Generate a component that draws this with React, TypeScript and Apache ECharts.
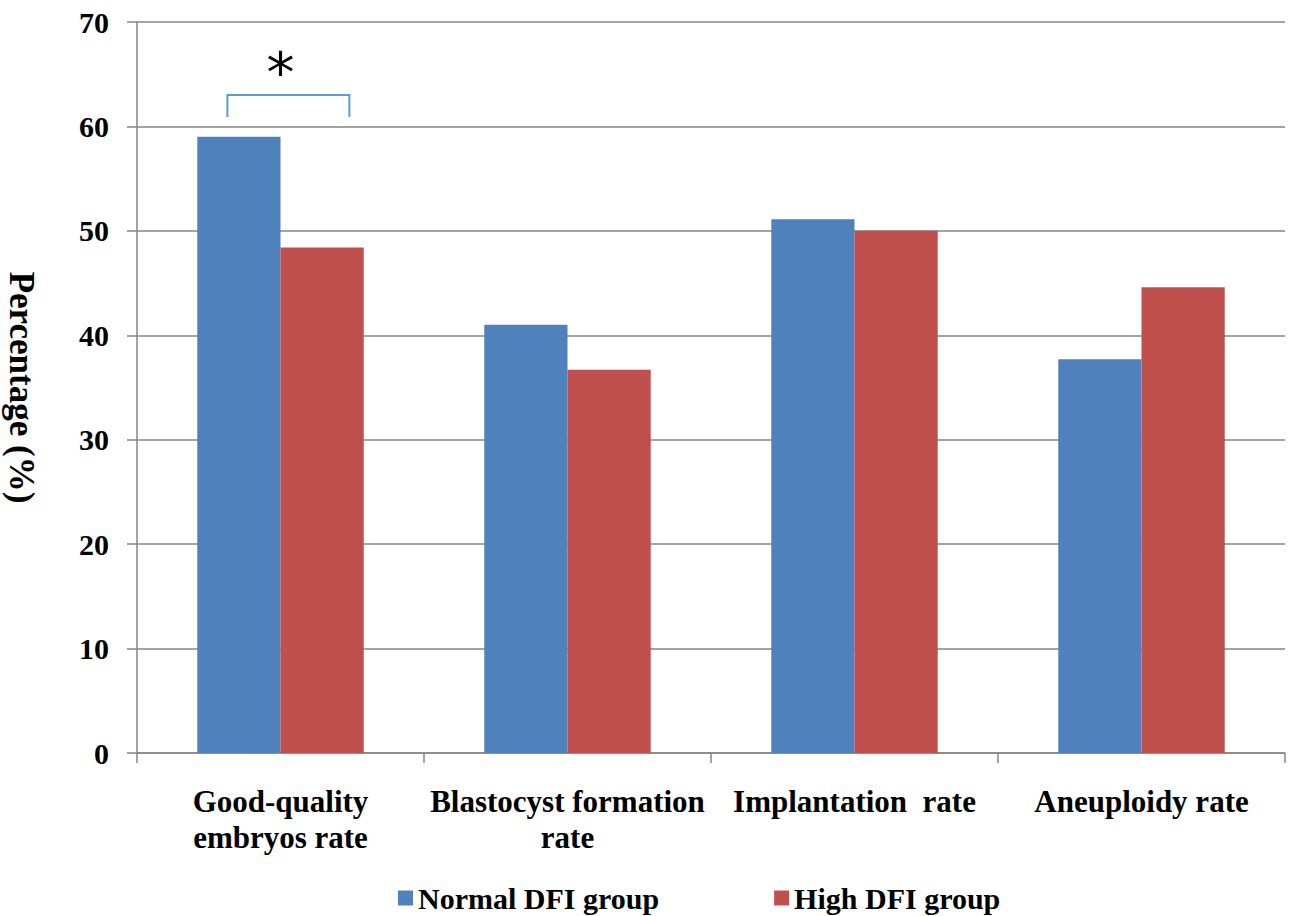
import React, { useEffect, useRef } from "react";
import * as echarts from "echarts";

const categories = [
  "Good-quality\nembryos rate",
  "Blastocyst formation\nrate",
  "Implantation  rate",
  "Aneuploidy rate",
];
const seriesNames = ["Normal DFI group", "High DFI group"];
const normalValues = [59.0, 41.0, 51.1, 37.7];
const highValues = [48.4, 36.7, 50.0, 44.6];
const yTicks = { min: 0, max: 70, interval: 10 };
const significance = { category: 0, bracketTop: 63.0, bracketLeg: 60.9, starValue: 65.2, label: "*" };

const FONT = "Liberation Serif";

export default function App() {
  const ref = useRef<HTMLDivElement>(null);
  useEffect(() => {
    if (!ref.current) return;
    const chart = echarts.init(ref.current, null, { renderer: "svg" });
    chart.setOption({
      animation: false,
      backgroundColor: "#ffffff",
      textStyle: { fontFamily: FONT },
      grid: { left: 137, right: 14, top: 22, bottom: 163, outerBoundsMode: "none", containLabel: false },
      legend: {
        data: seriesNames,
        left: 393,
        top: 878,
        icon: "rect",
        itemWidth: 15,
        itemHeight: 15,
        itemGap: 115,
        textStyle: { fontFamily: FONT, fontWeight: "bold", fontSize: 30, color: "#000" },
      },
      xAxis: {
        type: "category",
        data: categories,
        axisLine: { lineStyle: { color: "#868686", width: 1.5 } },
        axisTick: { show: true, length: 10, lineStyle: { color: "#868686", width: 1.5 } },
        axisLabel: {
          fontFamily: FONT,
          fontWeight: "bold",
          fontSize: 31,
          lineHeight: 36,
          color: "#000",
          margin: 30,
          interval: 0,
        },
      },
      yAxis: {
        type: "value",
        min: yTicks.min,
        max: yTicks.max,
        interval: yTicks.interval,
        name: "Percentage (%)",
        nameLocation: "middle",
        nameRotate: -90,
        nameGap: 98,
        nameTextStyle: { fontFamily: FONT, fontWeight: "bold", fontSize: 35, color: "#000" },
        axisLine: { show: true, lineStyle: { color: "#868686", width: 1.5 } },
        axisTick: { show: true, length: 10, lineStyle: { color: "#868686", width: 1.5 } },
        splitLine: { show: true, lineStyle: { color: "#868686", width: 1.5 } },
        axisLabel: { fontFamily: FONT, fontWeight: "bold", fontSize: 30, color: "#000", margin: 28 },
      },
      series: [
        {
          name: seriesNames[0],
          type: "bar",
          data: normalValues,
          barGap: "0%",
          barCategoryGap: "42%",
          itemStyle: { color: "#4f81bd" },
        },
        {
          name: seriesNames[1],
          type: "bar",
          data: highValues,
          barGap: "0%",
          barCategoryGap: "42%",
          itemStyle: { color: "#c0504d" },
        },
      ],
    });

    const c0 = chart.convertToPixel({ gridIndex: 0 }, [significance.category, significance.bracketTop]) as number[];
    const c1 = chart.convertToPixel({ gridIndex: 0 }, [significance.category + 1, significance.bracketTop]) as number[];
    const leg = chart.convertToPixel({ gridIndex: 0 }, [significance.category, significance.bracketLeg]) as number[];
    const star = chart.convertToPixel({ gridIndex: 0 }, [significance.category, significance.starValue]) as number[];
    const band = c1[0] - c0[0];
    const xl = c0[0] - 0.185 * band;
    const xr = c0[0] + 0.24 * band;
    chart.setOption({
      graphic: [
        {
          type: "polyline",
          shape: { points: [[xl, leg[1]], [xl, c0[1]], [xr, c0[1]], [xr, leg[1]]] },
          style: { stroke: "#5b9bd5", lineWidth: 2, fill: null },
        },
        {
          type: "text",
          x: star[0],
          y: star[1],
          style: {
            text: significance.label,
            fontFamily: "DejaVu Sans",
            fontSize: 56,
            fill: "#000",
            align: "center",
            verticalAlign: "middle",
          },
        },
      ],
    });
    return () => chart.dispose();
  }, []);
  return (
    <div
      ref={ref}
      style={{ position: "fixed", left: 0, top: 0, width: 1299, height: 916, background: "#fff" }}
    />
  );
}
